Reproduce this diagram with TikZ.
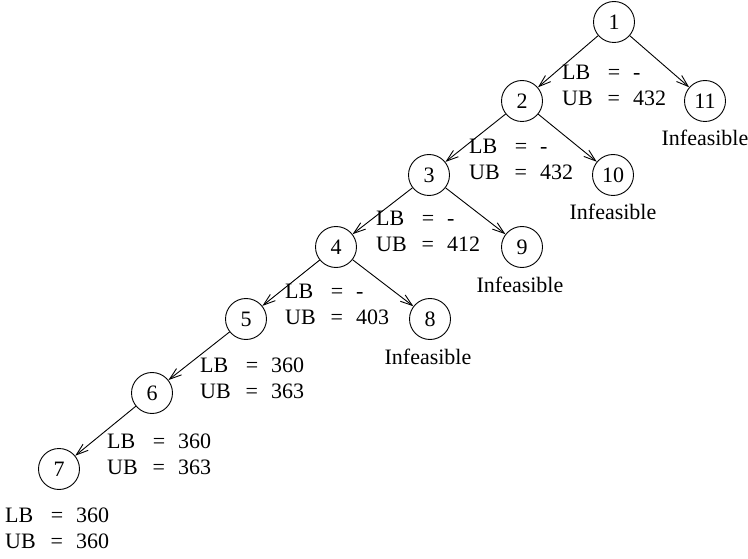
\documentclass[tikz,border=0pt]{standalone}
\usepackage{fontspec}
\setmainfont{Liberation Serif}
\usetikzlibrary{arrows.meta}
\newcommand\lbub[2]{\begin{tabular}[b]{@{}l@{\hspace{15pt}}c@{\hspace{13pt}}l@{}}LB & = & #1\\ UB & = & #2\end{tabular}}
\begin{document}
\begin{tikzpicture}[x=1pt,y=-1pt,
  nd/.style={draw,circle,minimum size=41pt,inner sep=0pt,line width=0.9pt,font=\fontsize{22}{26}\selectfont},
  arr/.style={line width=0.9pt,-{Straight Barb[length=12pt,width=8pt,line width=0.9pt]}},
  bnd/.style={anchor=base west,inner sep=0pt,font=\fontsize{22}{26}\selectfont},
  inf/.style={anchor=base,inner sep=0pt,font=\fontsize{22}{26}\selectfont}]
\useasboundingbox (0,0) rectangle (748,559);
\node[nd] (n1) at (614,22) {1};
\node[nd] (n2) at (522,101) {2};
\node[nd] (n11) at (705,101) {11};
\node[nd] (n3) at (429,175) {3};
\node[nd] (n10) at (613,175) {10};
\node[nd] (n4) at (336,247) {4};
\node[nd] (n9) at (522,247) {9};
\node[nd] (n5) at (246,319) {5};
\node[nd] (n8) at (430,319) {8};
\node[nd] (n6) at (152,393) {6};
\node[nd] (n7) at (59,469) {7};
\draw[arr] (n1) -- (n2);
\draw[arr] (n1) -- (n11);
\draw[arr] (n2) -- (n3);
\draw[arr] (n2) -- (n10);
\draw[arr] (n3) -- (n4);
\draw[arr] (n3) -- (n9);
\draw[arr] (n4) -- (n5);
\draw[arr] (n4) -- (n8);
\draw[arr] (n5) -- (n6);
\draw[arr] (n6) -- (n7);
\node[bnd] (b2) at (562,106) {\lbub{-}{432}};
\node[bnd] (b3) at (469,180) {\lbub{-}{432}};
\node[bnd] (b4) at (376,252) {\lbub{-}{412}};
\node[bnd] (b5) at (285,324) {\lbub{-}{403}};
\node[bnd] (b6) at (200,398) {\lbub{360}{363}};
\node[bnd] (b7) at (107,474) {\lbub{360}{363}};
\node[bnd] (b8) at (5,548) {\lbub{360}{360}};
\node[inf] (i11) at (705,146) {Infeasible};
\node[inf] (i10) at (613,220) {Infeasible};
\node[inf] (i9) at (520,292) {Infeasible};
\node[inf] (i8) at (428,364) {Infeasible};
\end{tikzpicture}
\end{document}
